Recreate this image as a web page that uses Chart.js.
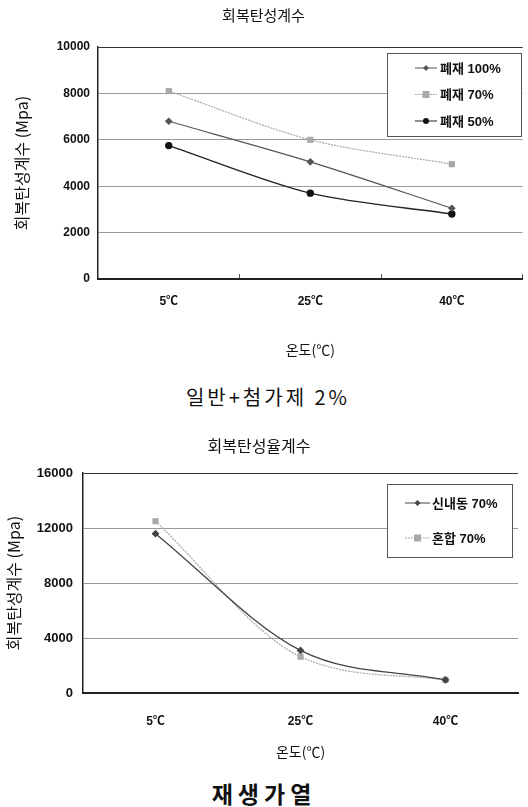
<!DOCTYPE html>
<html>
<head>
<meta charset="utf-8">
<script src="https://cdn.jsdelivr.net/npm/chart.js@4.4.0/dist/chart.umd.min.js"></script>
<style>
body{margin:0;background:#fff;width:528px;height:807px;position:relative;overflow:hidden;font-family:"Noto Sans CJK KR",sans-serif;}
#top-wrap{position:absolute;left:0;top:0;width:528px;height:365px;}
#bottom-wrap{position:absolute;left:0;top:430px;width:528px;height:340px;}
.caption{position:absolute;left:0;width:528px;text-align:center;color:#111;}
#cap1{top:385px;left:4px;font-size:20px;line-height:24px;letter-spacing:3px;}
#cap2{top:779px;font-size:23px;line-height:28px;font-weight:bold;letter-spacing:5px;}
</style>
</head>
<body>
<div id="top-wrap"><canvas id="top_chart"></canvas></div>
<div class="caption" id="cap1">일반+첨가제 2%</div>
<div id="bottom-wrap"><canvas id="bottom_chart"></canvas></div>
<div class="caption" id="cap2">재생가열</div>
<script>
// data
var temps = ['5℃', '25℃', '40℃'];

var waste100 = [6800, 5050, 3050];
var waste70 = [8100, 6000, 4950];
var waste50 = [5750, 3700, 2800];
var topTicks = [0, 2000, 4000, 6000, 8000, 10000];

var sinnae70 = [11600, 3100, 950];
var mixed70 = [12500, 2650, 950];
var bottomTicks = [0, 4000, 8000, 12000, 16000];

var KR = '"Noto Sans CJK KR", sans-serif';
var NUM = '"Liberation Sans", "Noto Sans CJK KR", sans-serif';

function drawMarker(ctx, style, r, x, y){
    ctx.beginPath();
    if (style === 'circle') {
        ctx.arc(x, y, r, 0, Math.PI * 2);
    } else if (style === 'rect') {
        ctx.rect(x - r, y - r, r * 2, r * 2);
    } else {
        ctx.moveTo(x, y - r); ctx.lineTo(x + r, y); ctx.lineTo(x, y + r); ctx.lineTo(x - r, y);
        ctx.closePath();
    }
    ctx.fill();
}

// legend box drawn inside the plot
var boxLegend = {
    id: 'boxLegend',
    afterDraw: function(chart, args, o){
        var ctx = chart.ctx;
        ctx.save();
        ctx.fillStyle = '#fff';
        ctx.fillRect(o.x, o.y, o.w, o.h);
        ctx.strokeStyle = '#555';
        ctx.lineWidth = 1;
        ctx.strokeRect(o.x + 0.5, o.y + 0.5, o.w, o.h);
        chart.data.datasets.forEach(function(ds, i){
            var y = o.y + o.firstRow + i * o.rowGap;
            var x0 = o.x + o.lineStart;
            ctx.strokeStyle = ds.borderColor;
            ctx.lineWidth = 1;
            ctx.setLineDash(ds.borderDash || []);
            ctx.beginPath(); ctx.moveTo(x0, y); ctx.lineTo(x0 + o.lineLen, y); ctx.stroke();
            ctx.setLineDash([]);
            ctx.fillStyle = ds.pointBackgroundColor;
            drawMarker(ctx, ds.pointStyle, ds.pointRadius, x0 + o.lineLen / 2, y);
            ctx.fillStyle = '#111';
            ctx.font = 'bold 13px ' + NUM;
            ctx.textBaseline = 'middle';
            ctx.fillText(ds.label, o.x + o.textX, y + 1);
        });
        ctx.restore();
    }
};

function gridColor(max){
    return function(c){ return c.tick && c.tick.value === max ? '#333' : '#9a9a9a'; };
}
function plain(v){ return String(v); }

var top_chart = new Chart(document.getElementById('top_chart'), {
    type: 'line',
    plugins: [boxLegend],
    data: {
        labels: temps,
        datasets: [{
            label: '폐재 100%', data: waste100,
            borderColor: '#555', borderWidth: 1.2,
            pointStyle: 'rectRot', pointRadius: 3, pointBackgroundColor: '#555', pointBorderColor: '#555',
            tension: 0.3,
        },{
            label: '폐재 70%', data: waste70,
            borderColor: '#a8a8a8', borderWidth: 1.2, borderDash: [2, 1],
            pointStyle: 'rect', pointRadius: 3.5, pointBackgroundColor: '#a8a8a8', pointBorderColor: '#a8a8a8',
            tension: 0.3,
        },{
            label: '폐재 50%', data: waste50,
            borderColor: '#222', borderWidth: 1.4,
            pointStyle: 'circle', pointRadius: 3, pointBackgroundColor: '#111', pointBorderColor: '#111',
            tension: 0.3,
        }]
    },
    options: {
        responsive: true, maintainAspectRatio: false, animation: false,
        layout: {padding: {left: 0, right: 1, top: 0, bottom: 0}},
        plugins: {
            legend: {display: false},
            tooltip: {enabled: false},
            title: {display: true, text: '회복탄성계수', color: '#111', font: {family: KR, size: 15, weight: 'normal'}, padding: {top: 6, bottom: 23}},
            boxLegend: {x: 387, y: 53, w: 134, h: 83, firstRow: 15, rowGap: 26.5, lineStart: 28, lineLen: 22, textX: 53},
        },
        scales: {
            y: {
                min: 0, max: 10000,
                afterBuildTicks: function(s){ s.ticks = topTicks.map(function(v){ return {value: v}; }); },
                afterFit: function(s){ s.width = 98; },
                ticks: {color: '#111', padding: 8, font: {family: NUM, size: 12, weight: 'bold'}, callback: plain},
                grid: {color: gridColor(10000), drawTicks: false},
                border: {color: '#222', width: 1.5},
                title: {display: true, text: '회복탄성계수 (Mpa)', color: '#111', font: {family: KR, size: 16}, padding: {top: 12, bottom: 0}},
            },
            x: {
                offset: true,
                afterFit: function(s){ s.height = 86; },
                ticks: {color: '#111', padding: 20, font: {family: NUM, size: 12, weight: 'bold'}},
                grid: {offset: true, drawOnChartArea: false, drawTicks: true, tickLength: -5, color: '#555'},
                border: {color: '#222', width: 2},
                title: {display: true, text: '온도(℃)', color: '#111', font: {family: KR, size: 14}, padding: {top: 0, bottom: 7}},
            }
        }
    }
});

var bottom_chart = new Chart(document.getElementById('bottom_chart'), {
    type: 'line',
    plugins: [boxLegend],
    data: {
        labels: temps,
        datasets: [{
            label: '신내동 70%', data: sinnae70,
            borderColor: '#444', borderWidth: 1.3,
            pointStyle: 'rectRot', pointRadius: 3, pointBackgroundColor: '#444', pointBorderColor: '#444',
            cubicInterpolationMode: 'monotone',
        },{
            label: '혼합 70%', data: mixed70,
            borderColor: '#a8a8a8', borderWidth: 1.2, borderDash: [2, 1],
            pointStyle: 'rect', pointRadius: 3.5, pointBackgroundColor: '#a8a8a8', pointBorderColor: '#a8a8a8',
            cubicInterpolationMode: 'monotone',
        }]
    },
    options: {
        responsive: true, maintainAspectRatio: false, animation: false,
        layout: {padding: {left: 0, right: 10, top: 0, bottom: 0}},
        plugins: {
            legend: {display: false},
            tooltip: {enabled: false},
            title: {display: true, text: '회복탄성율계수', color: '#111', font: {family: KR, size: 16, weight: 'normal'}, padding: {top: 6, bottom: 18}},
            boxLegend: {x: 387, y: 54, w: 125, h: 73, firstRow: 19, rowGap: 35, lineStart: 18, lineLen: 25, textX: 45},
        },
        scales: {
            y: {
                min: 0, max: 16000,
                afterBuildTicks: function(s){ s.ticks = bottomTicks.map(function(v){ return {value: v}; }); },
                afterFit: function(s){ s.width = 83; },
                ticks: {color: '#111', padding: 10, font: {family: NUM, size: 13, weight: 'bold'}, callback: plain},
                grid: {color: gridColor(16000), drawTicks: false},
                border: {color: '#222', width: 1.5},
                title: {display: true, text: '회복탄성계수 (Mpa)', color: '#111', font: {family: KR, size: 16}, padding: {top: 4, bottom: 0}},
            },
            x: {
                offset: true,
                afterFit: function(s){ s.height = 77; },
                ticks: {color: '#111', padding: 13, font: {family: NUM, size: 12, weight: 'bold'}},
                grid: {display: false},
                border: {color: '#222', width: 2},
                title: {display: true, text: '온도(℃)', color: '#111', font: {family: KR, size: 14}, padding: {top: 0, bottom: 10}},
            }
        }
    }
});
</script>
</body>
</html>
